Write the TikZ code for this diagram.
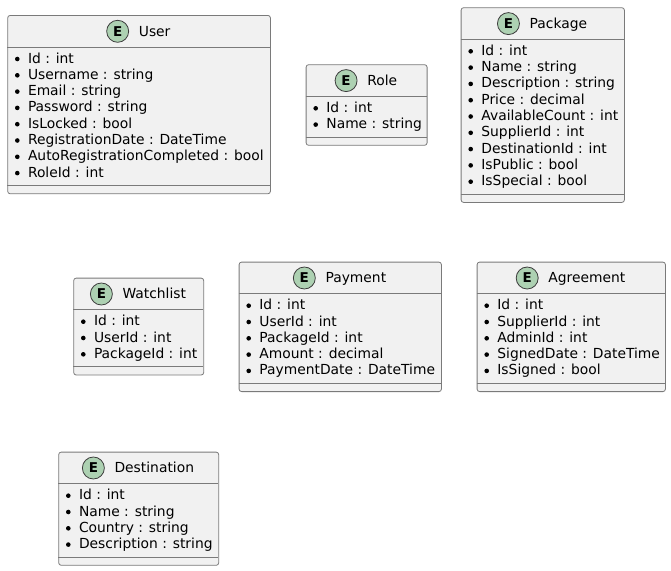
\documentclass[tikz,border=0pt]{standalone}
\usepackage{fontspec}
\setmainfont{DejaVu Sans}
\definecolor{boxfill}{HTML}{F1F1F1}
\definecolor{boxline}{HTML}{7A7A7A}
\definecolor{spotfill}{HTML}{ADD1B2}
\definecolor{spotline}{HTML}{3C3C3C}
\tikzset{
  entbox/.style={draw=boxline, fill=boxfill, line width=0.8pt, rounded corners=2.5pt, inner sep=0pt, anchor=north west},
  sepline/.style={draw=boxline, line width=0.8pt},
  spot/.style={circle, fill=spotfill, draw=spotline, line width=0.8pt, minimum size=22pt, inner sep=0pt, font=\fontsize{13.5}{13.5}\selectfont\bfseries},
  entitle/.style={inner sep=0pt, anchor=base, font=\fontsize{13.85}{16}\selectfont},
  attr/.style={inner sep=0pt, anchor=base west, font=\fontsize{13.85}{16}\selectfont},
  bulletdot/.style={circle, fill=black, draw=none, inner sep=0pt, minimum size=4.6pt},
}
% #1 id, #2 left, #3 top, #4 right, #5 title, #6 rows
\newcommand\entitybox[6]{%
  \pgfmathsetmacro\eL{#2}\pgfmathsetmacro\eT{#3}\pgfmathsetmacro\eR{#4}%
  \foreach \r [count=\i] in {#6} {\xdef\eN{\i}}%
  \pgfmathsetmacro\eH{\eT+32}%
  \pgfmathsetmacro\eS{\eH+\eN*16.3+8}%
  \pgfmathsetmacro\eB{\eS+8}%
  \pgfmathsetmacro\eW{\eR-\eL}%
  \pgfmathsetmacro\eHt{\eB-\eT}%
  \node[entbox, minimum width=\eW pt, minimum height=\eHt pt] (#1) at (\eL,\eT) {};
  \coordinate (#1-hl) at (\eL,\eH);
  \coordinate (#1-hr) at (\eR,\eH);
  \coordinate (#1-sl) at (\eL,\eS);
  \coordinate (#1-sr) at (\eR,\eS);
  \draw[sepline] (#1-hl) -- (#1-hr);
  \draw[sepline] (#1-sl) -- (#1-sr);
  \pgfmathsetmacro\eC{(\eL+\eR)/2+16}%
  \node[entitle] (#1-title) at (\eC,\eT+21) {#5};
  \coordinate (#1-mid) at (\eL,\eT+16.3);
  \node[spot, xshift=-21pt] (#1-spot) at (#1-title.west |- #1-mid) {E};
  \foreach \r [count=\i] in {#6} {%
    \pgfmathsetmacro\yb{\eH+16+(\i-1)*16.3}%
    \node[bulletdot] (#1-b\i) at (\eL+10,\yb-4) {};
    \node[attr] (#1-a\i) at (\eL+20.5,\yb) {\r};
  }%
}
\begin{document}
\begin{tikzpicture}[x=1pt,y=-1pt]
\useasboundingbox (0,0) rectangle (671,570);
\entitybox{user}{7.3}{15}{270}{User}{Id : int,Username : string,Email : string,Password : string,IsLocked : bool,RegistrationDate : DateTime,AutoRegistrationCompleted : bool,RoleId : int}
\entitybox{role}{305.7}{64.3}{426.7}{Role}{Id : int,Name : string}
\entitybox{package}{460.7}{7.3}{624}{Package}{Id : int,Name : string,Description : string,Price : decimal,AvailableCount : int,SupplierId : int,DestinationId : int,IsPublic : bool,IsSpecial : bool}
\entitybox{watchlist}{73.3}{277.7}{203.3}{Watchlist}{Id : int,UserId : int,PackageId : int}
\entitybox{payment}{238.7}{261.7}{441}{Payment}{Id : int,UserId : int,PackageId : int,Amount : decimal,PaymentDate : DateTime}
\entitybox{agreement}{476.7}{261.7}{665}{Agreement}{Id : int,SupplierId : int,AdminId : int,SignedDate : DateTime,IsSigned : bool}
\entitybox{destination}{58.3}{451.7}{218.3}{Destination}{Id : int,Name : string,Country : string,Description : string}
\end{tikzpicture}
\end{document}
